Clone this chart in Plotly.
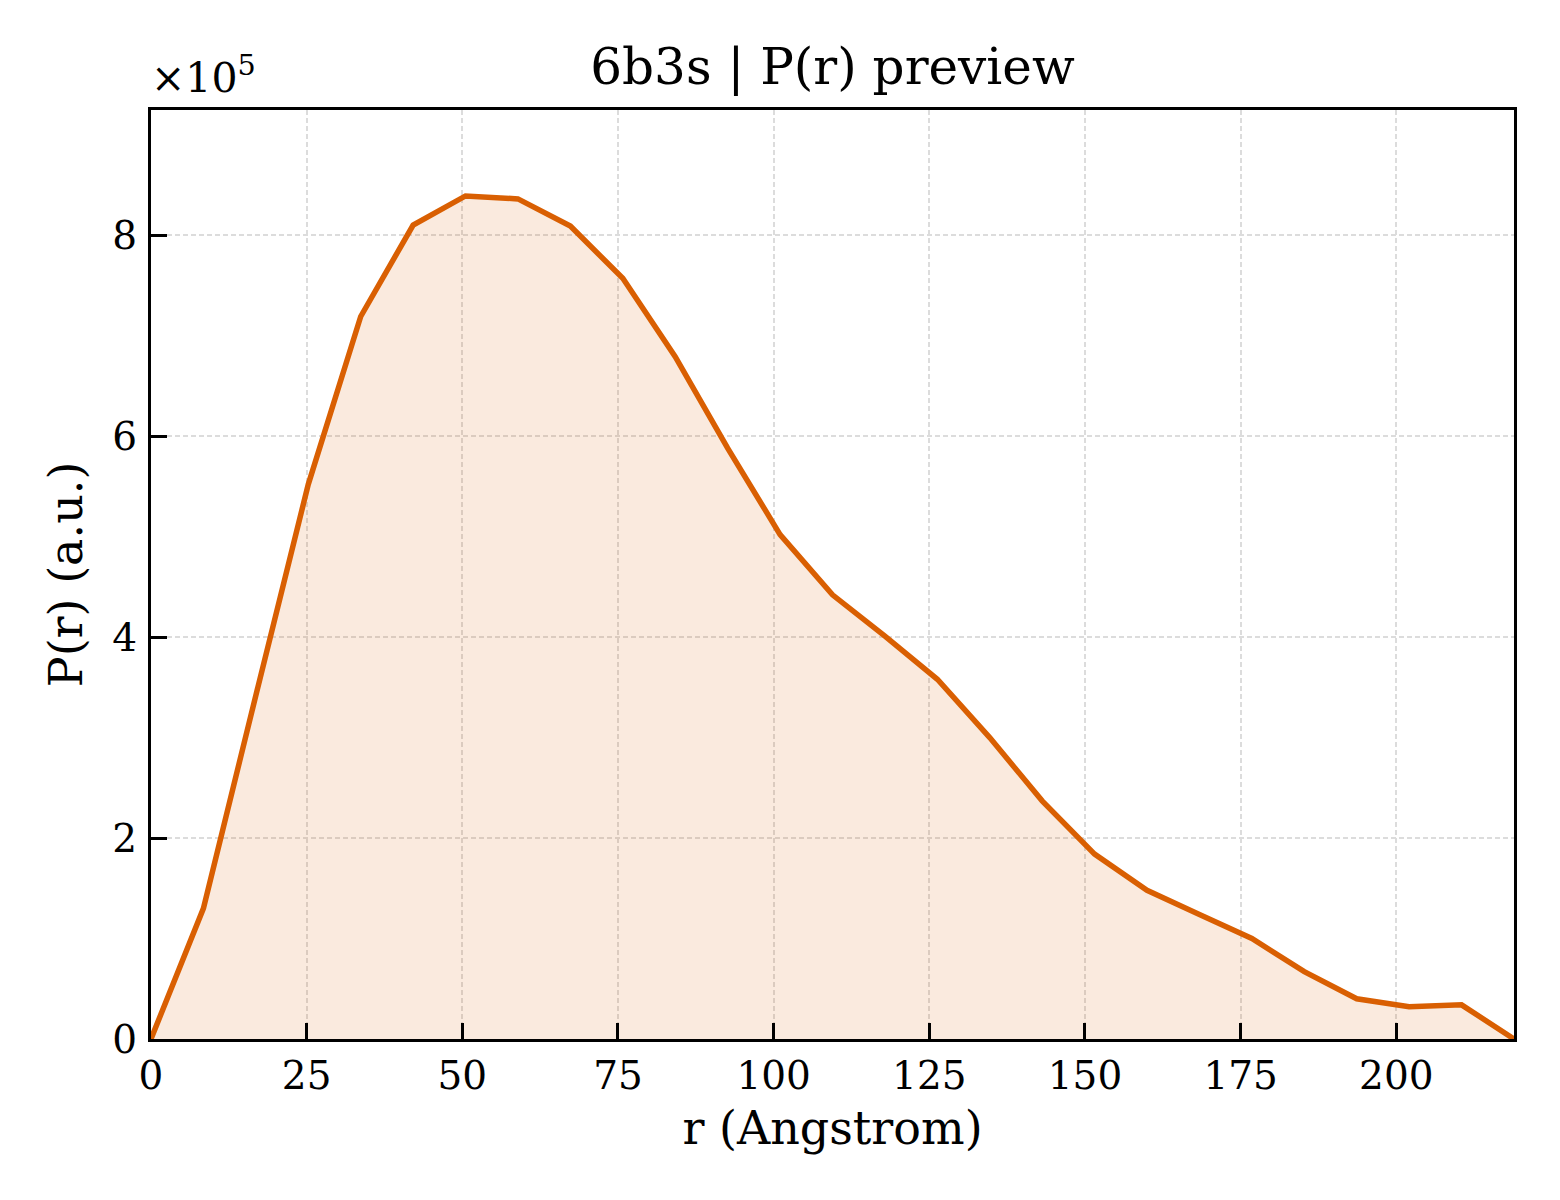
import plotly.graph_objects as go

# r values (Angstrom)
r_values = [0.0, 8.42, 16.84, 25.26, 33.68, 42.10, 50.51, 58.93, 67.35, 75.77,
            84.19, 92.61, 101.03, 109.45, 117.87, 126.29, 134.70, 143.12, 151.54,
            159.96, 168.38, 176.80, 185.22, 193.64, 202.06, 210.48, 218.90]
# P(r) in units of 1e5 (a.u.)
p_values = [0.0, 1.30, 3.42, 5.52, 7.19, 8.10, 8.39, 8.36, 8.09, 7.57,
            6.79, 5.88, 5.02, 4.42, 4.01, 3.58, 3.00, 2.37, 1.84,
            1.48, 1.24, 1.00, 0.67, 0.40, 0.32, 0.34, 0.0]

x_ticks = [0, 25, 50, 75, 100, 125, 150, 175, 200]
y_ticks = [0, 2, 4, 6, 8]

title_text = "6b3s | P(r) preview"
x_label = "r (Angstrom)"
y_label = "P(r) (a.u.)"
scale_label = "×10<sup>5</sup>"

LINE = "#D95F02"
FONT = "DejaVu Serif"

fig = go.Figure()
fig.add_trace(go.Scatter(
    x=r_values, y=p_values, mode="lines",
    line=dict(color=LINE, width=5.5),
    fill="tozeroy", fillcolor="rgba(217,95,2,0.13)",
    showlegend=False, hoverinfo="skip",
))

axis_common = dict(
    showline=True, linecolor="black", linewidth=3, mirror=True,
    ticks="inside", ticklen=16, tickwidth=3, tickcolor="black",
    showgrid=True, gridcolor="#dcdcdc", gridwidth=1.5, griddash="5px,3px",
    zeroline=False,
    tickfont=dict(family=FONT, size=39, color="black"),
)

fig.update_xaxes(
    range=[0, 218.9], tickvals=x_ticks,
    title=dict(text=x_label, font=dict(family=FONT, size=46, color="black"), standoff=16),
    **axis_common,
)
fig.update_yaxes(
    range=[0, 9.245], tickvals=y_ticks, ticklabelstandoff=3,
    title=dict(text=y_label, font=dict(family=FONT, size=46, color="black"), standoff=16),
    **axis_common,
)

fig.update_layout(
    width=1560, height=1200,
    margin=dict(l=143, r=54, t=102, b=169),
    paper_bgcolor="white", plot_bgcolor="white",
    font=dict(family=FONT, color="black"),
    title=dict(text=title_text, x=0.5, xref="paper", xanchor="center",
               y=1, yref="paper", yanchor="bottom", pad=dict(b=26),
               font=dict(family=FONT, size=50, color="black")),
    annotations=[dict(text=scale_label, xref="paper", yref="paper",
                      x=0, y=1, xanchor="left", yanchor="bottom", xshift=-2, yshift=6,
                      showarrow=False,
                      font=dict(family=FONT, size=41, color="black"))],
)

fig.write_html("out.html")
